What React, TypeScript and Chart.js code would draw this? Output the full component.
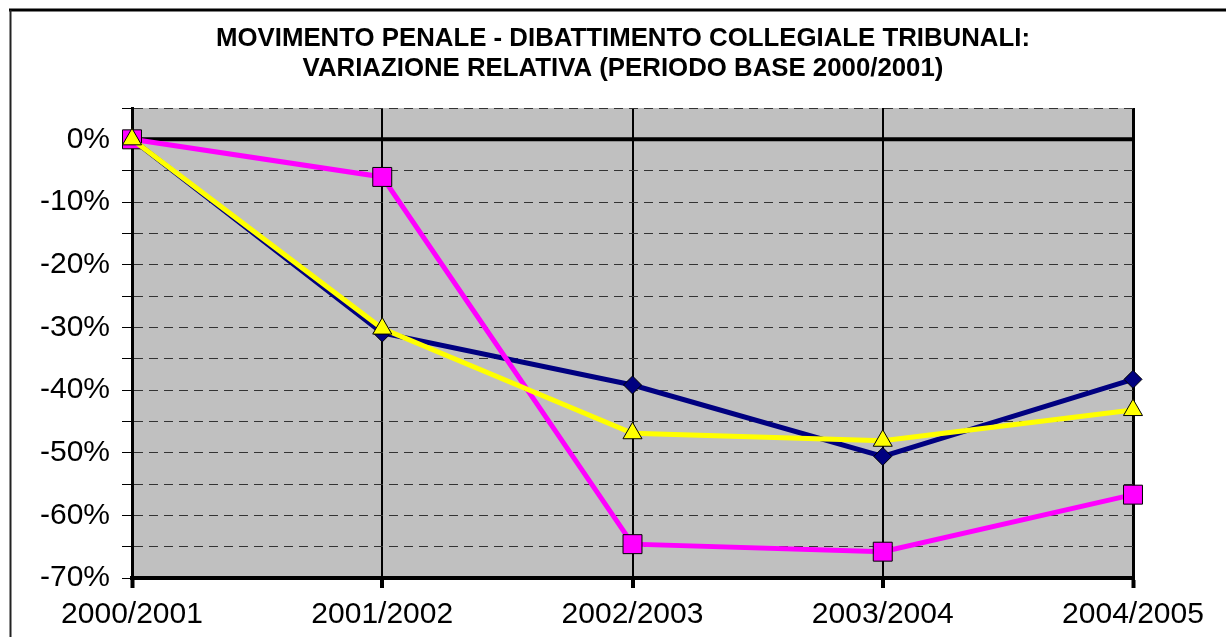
import React, { useEffect, useRef } from "react";
import { Chart, registerables } from "chart.js";

Chart.register(...registerables);

const categories = ["2000/2001", "2001/2002", "2002/2003", "2003/2004", "2004/2005"];
const seriesNavy = [0, -30.9, -39.2, -50.6, -38.3];
const seriesMagenta = [0, -6.0, -64.6, -65.8, -56.7];
const seriesYellow = [0, -30.2, -46.9, -48.1, -43.2];
const titleLines = [
  "MOVIMENTO PENALE - DIBATTIMENTO COLLEGIALE TRIBUNALI:",
  "VARIAZIONE RELATIVA (PERIODO BASE 2000/2001)",
];
const yMin = -70;
const yMax = 5;
const yStep = 5;

const FONT = "'Liberation Sans', Arial, sans-serif";

const decorPlugin = {
  id: "decor",
  beforeDraw(chart: any) {
    const { ctx, chartArea } = chart;
    ctx.save();
    ctx.fillStyle = "#ffffff";
    ctx.fillRect(0, 0, chart.width, chart.height);
    ctx.fillStyle = "#C0C0C0";
    ctx.fillRect(chartArea.left, chartArea.top, chartArea.right - chartArea.left, chartArea.bottom - chartArea.top);
    ctx.restore();
  },
  beforeDatasetsDraw(chart: any) {
    const { ctx, chartArea, scales } = chart;
    const y0 = scales.y.getPixelForValue(0);
    ctx.save();
    ctx.strokeStyle = "#000000";
    ctx.lineWidth = 4;
    ctx.beginPath();
    ctx.moveTo(chartArea.left, y0);
    ctx.lineTo(chartArea.right, y0);
    ctx.stroke();
    ctx.restore();
  },
  afterDraw(chart: any) {
    const { ctx } = chart;
    ctx.save();
    ctx.strokeStyle = "#000000";
    ctx.lineWidth = 3;
    ctx.beginPath();
    ctx.moveTo(9, 10);
    ctx.lineTo(chart.width, 10);
    ctx.stroke();
    ctx.lineWidth = 2;
    ctx.strokeStyle = "#222222";
    ctx.beginPath();
    ctx.moveTo(10.5, 10);
    ctx.lineTo(10.5, chart.height);
    ctx.stroke();
    ctx.fillStyle = "#000000";
    ctx.font = `bold 25.8px ${FONT}`;
    ctx.textAlign = "center";
    ctx.textBaseline = "alphabetic";
    ctx.fillText(titleLines[0], 623, 46);
    ctx.fillText(titleLines[1], 623, 76);
    ctx.restore();
  },
};

export default function App() {
  const canvasRef = useRef<HTMLCanvasElement | null>(null);

  useEffect(() => {
    if (!canvasRef.current) return;
    const chart = new Chart(canvasRef.current, {
      type: "line",
      data: {
        labels: categories,
        datasets: [
          {
            label: "Serie 1",
            data: seriesNavy,
            borderColor: "#000080",
            backgroundColor: "#000080",
            borderWidth: 5,
            pointStyle: "rectRot",
            pointRadius: 9,
            pointBorderColor: "#000000",
            pointBorderWidth: 1,
            tension: 0,
            clip: false,
            order: 3,
          } as any,
          {
            label: "Serie 2",
            data: seriesMagenta,
            borderColor: "#FF00FF",
            backgroundColor: "#FF00FF",
            borderWidth: 5,
            pointStyle: "rect",
            pointRadius: 13.4,
            pointBorderColor: "#000000",
            pointBorderWidth: 1,
            tension: 0,
            clip: false,
            order: 2,
          } as any,
          {
            label: "Serie 3",
            data: seriesYellow,
            borderColor: "#FFFF00",
            backgroundColor: "#FFFF00",
            borderWidth: 5,
            pointStyle: "triangle",
            pointRadius: 11,
            pointBorderColor: "#000000",
            pointBorderWidth: 1,
            tension: 0,
            clip: false,
            order: 1,
          } as any,
        ],
      },
      options: {
        responsive: false,
        animation: false,
        devicePixelRatio: 1,
        layout: { padding: { top: 108, right: 93, left: 0, bottom: 0 } },
        plugins: {
          legend: { display: false },
          title: { display: false },
          tooltip: { enabled: false },
        },
        scales: {
          x: {
            type: "category",
            offset: false,
            afterFit: (scale: any) => {
              scale.height = 59;
            },
            grid: {
              color: "#000000",
              lineWidth: (ctx: any) => (ctx.index === 0 || ctx.index === categories.length - 1 ? 3 : 2),
              drawTicks: true,
              tickLength: 10,
              tickWidth: 4,
              tickColor: "#000000",
            },
            border: { display: true, color: "#000000", width: 4 },
            ticks: {
              color: "#000000",
              font: { family: FONT, size: 30 },
              padding: 9,
              maxRotation: 0,
              autoSkip: false,
            },
          },
          y: {
            type: "linear",
            min: yMin,
            max: yMax,
            afterFit: (scale: any) => {
              scale.width = 132;
            },
            grid: {
              color: (ctx: any) => {
                const v = ctx.tick ? ctx.tick.value : null;
                if (v === 0 || v === yMin) return "rgba(0,0,0,0)";
                return "#333333";
              },
              lineWidth: 1,
              drawTicks: true,
              tickLength: 10,
              tickWidth: 1,
              tickColor: "#000000",
            },
            border: { display: true, color: "#000000", width: 3, dash: [9, 6] },
            ticks: {
              stepSize: yStep,
              autoSkip: false,
              color: "#000000",
              font: { family: FONT, size: 30 },
              padding: 12,
              callback: (v: any) => (Number(v) % 10 === 0 ? `${v}%` : ""),
            },
          },
        },
      } as any,
      plugins: [decorPlugin],
    });
    return () => chart.destroy();
  }, []);

  return (
    <div style={{ position: "absolute", left: 0, top: 0, width: 1226, height: 637 }}>
      <canvas ref={canvasRef} width={1226} height={637} style={{ display: "block" }} />
    </div>
  );
}
